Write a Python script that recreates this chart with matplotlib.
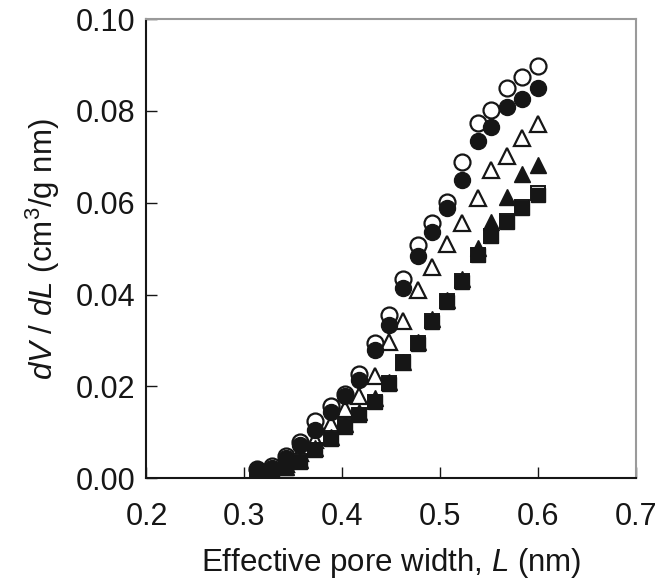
import matplotlib
matplotlib.use("Agg")
import matplotlib.pyplot as plt

plt.rcParams['font.family'] = ['Liberation Sans', 'DejaVu Sans']
plt.rcParams['mathtext.fontset'] = 'custom'
plt.rcParams['mathtext.rm'] = 'Liberation Sans'
plt.rcParams['mathtext.it'] = 'Liberation Sans:italic'

## data
pore_width = [0.313, 0.328, 0.342, 0.357, 0.372, 0.388, 0.403, 0.417, 0.433, 0.447,
              0.462, 0.477, 0.491, 0.507, 0.522, 0.538, 0.552, 0.568, 0.583, 0.600]

open_circle = [0.0019, 0.0027, 0.0048, 0.0078, 0.0124, 0.0158, 0.0183, 0.0228, 0.0295, 0.0356,
               0.0435, 0.0508, 0.0557, 0.0602, 0.0688, 0.0774, 0.0803, 0.0851, 0.0873, 0.0898]
filled_circle = [0.0017, 0.0023, 0.0043, 0.0072, 0.0106, 0.0144, 0.0180, 0.0214, 0.0279, 0.0333,
                 0.0415, 0.0485, 0.0536, 0.0589, 0.0650, 0.0735, 0.0764, 0.0808, 0.0825, 0.0851]
open_triangle = [0.0008, 0.0015, 0.0030, 0.0055, 0.0083, 0.0117, 0.0150, 0.0179, 0.0223, 0.0296,
                 0.0343, 0.0411, 0.0460, 0.0511, 0.0555, 0.0611, 0.0671, 0.0702, 0.0741, 0.0771]
filled_triangle = [0.0005, 0.0012, 0.0025, 0.0039, 0.0065, 0.0090, 0.0117, 0.0144, 0.0174, 0.0210,
                   0.0253, 0.0297, 0.0346, 0.0388, 0.0435, 0.0502, 0.0558, 0.0612, 0.0663, 0.0683]
open_square = [0.0005, 0.0011, 0.0023, 0.0037, 0.0062, 0.0087, 0.0113, 0.0138, 0.0167, 0.0207,
               0.0254, 0.0294, 0.0342, 0.0385, 0.0429, 0.0487, 0.0528, 0.0560, 0.0591, 0.0622]
filled_square = [0.0004, 0.0010, 0.0022, 0.0036, 0.0061, 0.0086, 0.0112, 0.0137, 0.0166, 0.0206,
                 0.0253, 0.0293, 0.0341, 0.0384, 0.0428, 0.0486, 0.0527, 0.0558, 0.0589, 0.0616]

x_ticks = [0.2, 0.3, 0.4, 0.5, 0.6, 0.7]
y_ticks = [0.00, 0.02, 0.04, 0.06, 0.08, 0.10]

ink = '#161616'

fig = plt.figure(figsize=(6.72, 5.81), dpi=100)
ax = fig.add_axes([0.218, 0.177, 0.729, 0.790])

# open markers first, filled ones drawn on top
ax.plot(pore_width, open_circle, 'o', ms=11.5, mfc='white', mec=ink, mew=1.6, ls='none')
ax.plot(pore_width, open_triangle, '^', ms=11.5, mfc='white', mec=ink, mew=1.6, ls='none')
ax.plot(pore_width, open_square, 's', ms=10.5, mfc='white', mec=ink, mew=1.4, ls='none')
ax.plot(pore_width, filled_circle, 'o', ms=11.5, color=ink, ls='none')
ax.plot(pore_width, filled_square, 's', ms=10.5, color=ink, ls='none')
ax.plot(pore_width, filled_triangle, '^', ms=11.5, color=ink, ls='none')

## settings
ax.set_xlim(0.2, 0.7)
ax.set_ylim(0.0, 0.1)
ax.set_xticks(x_ticks)
ax.set_xticklabels(['%.1f' % v for v in x_ticks])
ax.set_yticks(y_ticks)
ax.set_yticklabels(['%.2f' % v for v in y_ticks])
ax.tick_params(direction='in', length=8, width=1.0, labelsize=22, colors=ink)
ax.tick_params(axis='x', pad=17)
ax.tick_params(axis='y', pad=8)

for side in ['top', 'right']:
    ax.spines[side].set_color('#9a9a9a')
    ax.spines[side].set_linewidth(1.5)
for side in ['bottom', 'left']:
    ax.spines[side].set_color(ink)
    ax.spines[side].set_linewidth(1.5)

ax.set_xlabel('Effective pore width, $L$ (nm)', fontsize=22.5, labelpad=10, color=ink)
ax.set_ylabel('$dV$ / $dL$ (cm$^3$/g nm)', fontsize=22.5, labelpad=10, color=ink)

fig.savefig('out.png', dpi=100)
